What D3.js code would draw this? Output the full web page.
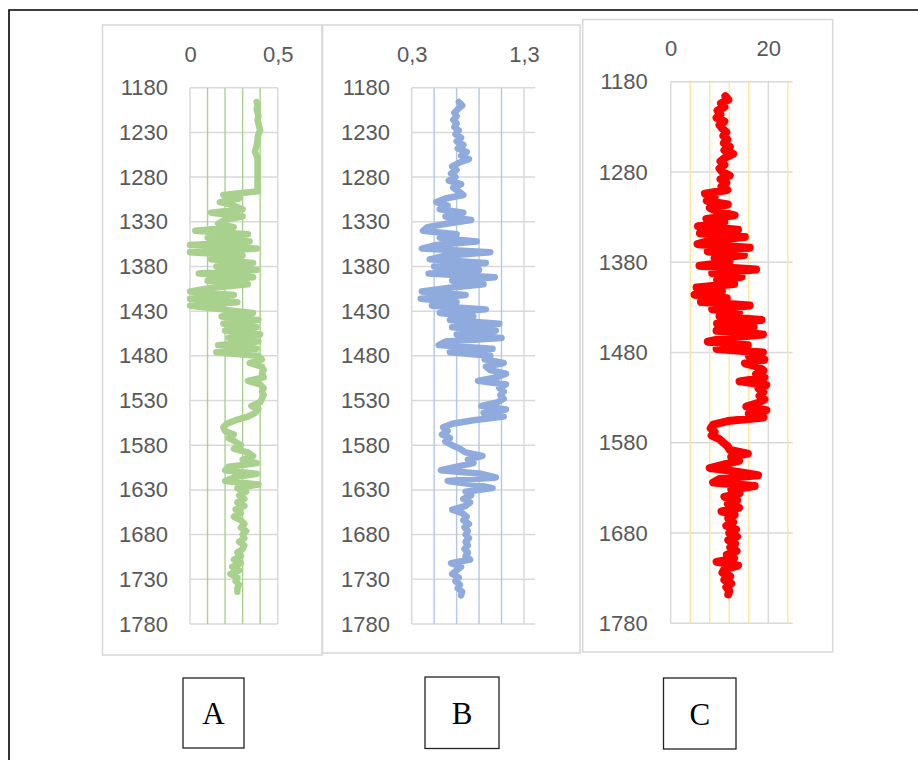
<!DOCTYPE html>
<html>
<head>
<meta charset="utf-8">
<script src="https://cdn.jsdelivr.net/npm/d3@7"></script>
<style>
  body { margin: 0; background: #fff; }
  svg text { font-family: "Liberation Sans", Arial, sans-serif; }
</style>
</head>
<body>
<script>
// Depth samples start at 1196 and step by 4 (one value per sample)
const depthStart = 1196;
const depthStep = 4;

// Track A (0 - 0.5)
const logA = [
  0.38, 0.385, 0.38, 0.385, 0.39, 0.385, 0.39, 0.395, 0.40, 0.39,
  0.385, 0.385, 0.38, 0.375, 0.37, 0.38, 0.385, 0.385, 0.385, 0.385,
  0.385, 0.385, 0.385, 0.385, 0.385, 0.385, 0.19, 0.28, 0.17, 0.25,
  0.30, 0.12, 0.30, 0.20, 0.16, 0.25, 0.03, 0.33, 0.10, 0.34,
  0.0, 0.38, 0.0, 0.30, 0.12, 0.36, 0.15, 0.38, 0.05, 0.36,
  0.10, 0.33, 0.12, 0.0, 0.25, 0.0, 0.27, 0.0, 0.18, 0.36,
  0.18, 0.39, 0.19, 0.38, 0.20, 0.40, 0.22, 0.39, 0.16, 0.38,
  0.15, 0.39, 0.41, 0.34, 0.41, 0.42, 0.41, 0.42, 0.33, 0.40,
  0.42, 0.41, 0.42, 0.41, 0.40, 0.35, 0.39, 0.37, 0.33, 0.26,
  0.21, 0.19, 0.20, 0.25, 0.22, 0.26, 0.29, 0.25, 0.33, 0.36,
  0.30, 0.38, 0.22, 0.20, 0.38, 0.25, 0.20, 0.39, 0.27, 0.32,
  0.28, 0.31, 0.27, 0.31, 0.26, 0.29, 0.25, 0.29, 0.31, 0.29,
  0.32, 0.30, 0.31, 0.28, 0.31, 0.30, 0.27, 0.29, 0.25, 0.29,
  0.24, 0.28, 0.23, 0.27, 0.26, 0.28, 0.27, 0.27
];

// Track B (0.3 - 1.4)
const logB = [
  0.72, 0.75, 0.71, 0.68, 0.70, 0.67, 0.70, 0.68, 0.72, 0.69,
  0.74, 0.70, 0.76, 0.71, 0.79, 0.74, 0.81, 0.72, 0.66, 0.70,
  0.65, 0.69, 0.63, 0.74, 0.67, 0.72, 0.76, 0.60, 0.52, 0.62,
  0.55, 0.76, 0.60, 0.83, 0.62, 0.44, 0.40, 0.70, 0.55, 0.88,
  0.52, 0.39, 1.00, 0.60, 0.46, 0.96, 0.50, 0.90, 0.45, 1.04,
  0.66, 0.94, 0.62, 0.39, 0.78, 0.38, 0.70, 0.48, 0.96, 0.55,
  0.85, 0.64, 1.08, 0.66, 1.05, 0.70, 1.10, 0.60, 0.54, 1.02,
  0.64, 1.00, 0.95, 1.12, 0.96, 1.00, 1.14, 1.06, 0.89, 1.14,
  1.08, 1.12, 1.09, 1.12, 1.06, 0.92, 1.14, 0.94, 1.12, 0.85,
  0.66, 0.58, 0.62, 0.57, 0.64, 0.60, 0.66, 0.73, 0.78, 0.93,
  0.80, 0.85, 0.70, 0.56, 0.92, 1.05, 0.62, 0.86, 1.02, 0.78,
  0.83, 0.76, 0.82, 0.78, 0.66, 0.75, 0.79, 0.76, 0.81, 0.77,
  0.80, 0.78, 0.81, 0.78, 0.80, 0.77, 0.80, 0.78, 0.82, 0.65,
  0.74, 0.70, 0.66, 0.72, 0.69, 0.73, 0.71, 0.75, 0.74
];

// Track C (0 - 25)
const logC = [
  11.2, 11.8, 10.3, 11.0, 9.6, 10.2, 9.4, 11.0, 10.0, 10.6,
  11.4, 10.8, 11.6, 10.9, 12.1, 11.0, 12.8, 11.2, 10.2, 11.0,
  10.0, 10.6, 12.1, 10.2, 11.4, 10.4, 11.6, 7.0, 9.0, 7.4,
  11.7, 8.0, 10.0, 13.1, 7.3, 11.0, 5.6, 13.8, 6.0, 15.2,
  8.0, 5.5, 16.2, 7.6, 15.0, 9.0, 12.0, 5.9, 17.5, 8.5,
  14.5, 9.5, 13.0, 5.3, 10.5, 4.9, 11.5, 6.2, 16.2, 8.5,
  14.0, 10.0, 18.6, 9.5, 17.0, 9.4, 18.9, 11.0, 7.6, 15.8,
  9.4, 18.9, 16.0, 19.2, 15.2, 18.0, 19.0, 17.5, 19.2, 14.1,
  19.6, 18.0, 19.0, 18.2, 19.2, 17.8, 15.5, 19.6, 16.0, 19.0,
  11.7, 8.7, 8.2, 9.0, 8.4, 10.0, 10.8, 11.7, 12.1, 15.8,
  12.4, 14.0, 11.0, 8.0, 13.5, 17.9, 10.0, 8.7, 17.2, 12.4,
  14.1, 11.0, 13.6, 11.7, 14.0, 10.4, 13.1, 11.8, 12.8, 11.4,
  13.4, 12.0, 13.6, 11.8, 13.2, 12.2, 13.5, 11.5, 13.0, 9.4,
  13.8, 11.0, 10.6, 12.2, 11.0, 12.4, 11.4, 12.0, 11.8
];

// Tick labels
const depthTicks50 = [1180, 1230, 1280, 1330, 1380, 1430, 1480, 1530, 1580, 1630, 1680, 1730, 1780];
const depthTicks100 = [1180, 1280, 1380, 1480, 1580, 1680, 1780];
const topTicksA = [0, 0.5], minorA = [0.1, 0.2, 0.3, 0.4];
const topTicksB = [0.3, 1.3], minorB = [0.5, 0.7, 0.9, 1.1];
const topTicksC = [0, 20], minorC = [4, 8, 12, 16, 24];
const trackNames = ["A", "B", "C"];

const W = 918, H = 760;
const svg = d3.select("body").append("svg")
  .attr("width", W).attr("height", H);

// outer black frame (only top and left edges are in view)
svg.append("path")
  .attr("d", `M9,${H}V10H${W}`)
  .attr("fill", "none").attr("stroke", "#000").attr("stroke-width", 1.6);

const fmt = d => String(d).replace(".", ",");

function drawTrack(cfg) {
  const g = svg.append("g");

  g.append("rect")
    .attr("x", cfg.frame[0]).attr("y", cfg.frame[1])
    .attr("width", cfg.frame[2]).attr("height", cfg.frame[3])
    .attr("fill", "#fff").attr("stroke", "#d9d9d9").attr("stroke-width", 1.6);

  const x = d3.scaleLinear().domain(cfg.xDomain).range(cfg.xRange);
  const y = d3.scaleLinear().domain([1180, 1780]).range(cfg.yRange);

  // horizontal grid
  g.selectAll(".hgrid").data(cfg.hGrid).join("line")
    .attr("x1", x.range()[0]).attr("x2", x.range()[1])
    .attr("y1", d => y(d)).attr("y2", d => y(d))
    .attr("stroke", "#d9d9d9").attr("stroke-width", 1.5);

  // minor vertical grid (coloured)
  g.selectAll(".vminor").data(cfg.minor).join("line")
    .attr("x1", d => x(d)).attr("x2", d => x(d))
    .attr("y1", y(1180)).attr("y2", y(1780))
    .attr("stroke", cfg.gridColor).attr("stroke-width", 1.4);

  // major vertical grid (grey)
  g.selectAll(".vmajor").data(cfg.topTicks).join("line")
    .attr("x1", d => x(d)).attr("x2", d => x(d))
    .attr("y1", y(1180)).attr("y2", y(1780))
    .attr("stroke", "#d9d9d9").attr("stroke-width", 1.5);

  // depth axis labels
  const left = g.append("g")
    .attr("transform", `translate(${x.range()[0]},0)`)
    .call(d3.axisLeft(y).tickValues(cfg.labels).tickSize(0).tickPadding(cfg.padLeft).tickFormat(d3.format("d")));
  left.select(".domain").remove();
  left.selectAll("text").attr("font-size", 22).attr("fill", "#595959")
    .style("font-family", '"Liberation Sans", Arial, sans-serif');

  // value axis labels on top
  const top = g.append("g")
    .attr("transform", `translate(0,${y(1180)})`)
    .call(d3.axisTop(x).tickValues(cfg.topTicks).tickSize(0).tickPadding(cfg.padTop).tickFormat(fmt));
  top.select(".domain").remove();
  top.selectAll("text").attr("font-size", 22).attr("fill", "#595959")
    .style("font-family", '"Liberation Sans", Arial, sans-serif');

  // log curve
  const line = d3.line()
    .x(d => x(d))
    .y((d, i) => y(depthStart + i * depthStep));
  g.append("path")
    .datum(cfg.values)
    .attr("d", line)
    .attr("fill", "none")
    .attr("stroke", cfg.color)
    .attr("stroke-width", cfg.width)
    .attr("stroke-linejoin", "round")
    .attr("stroke-linecap", "round");

  // caption box
  const b = cfg.box;
  svg.append("rect")
    .attr("x", b[0]).attr("y", b[1]).attr("width", b[2]).attr("height", b[3])
    .attr("fill", "none").attr("stroke", "#222").attr("stroke-width", 1.3);
  svg.append("text")
    .attr("x", b[0] + b[2] / 2).attr("y", b[1] + b[3] / 2 + 11)
    .attr("text-anchor", "middle")
    .attr("font-size", 31)
    .style("font-family", '"Liberation Serif", "Times New Roman", serif')
    .attr("fill", "#000")
    .text(cfg.name);
}

drawTrack({
  name: trackNames[0], values: logA, color: "#a9d18e", gridColor: "#a9d18e", width: 6.5,
  frame: [102.5, 25, 219.5, 630],
  xDomain: [0, 0.5], xRange: [190, 277.7], yRange: [87.7, 624],
  topTicks: topTicksA, minor: minorA, hGrid: depthTicks50, labels: depthTicks50,
  padLeft: 22, padTop: 26, box: [183, 678, 61, 70]
});

drawTrack({
  name: trackNames[1], values: logB, color: "#8faadc", gridColor: "#b4c7e7", width: 6.5,
  frame: [322.5, 25, 257.5, 628],
  xDomain: [0.3, 1.4], xRange: [411.7, 535.2], yRange: [87.7, 624],
  topTicks: topTicksB, minor: minorB, hGrid: depthTicks50, labels: depthTicks50,
  padLeft: 21.7, padTop: 26, box: [425, 677, 74, 71.5]
});

drawTrack({
  name: trackNames[2], values: logC, color: "#ff0000", gridColor: "#ffe699", width: 8,
  frame: [582.7, 19.5, 250, 632.5],
  xDomain: [0, 25], xRange: [670.7, 792.7], yRange: [81.7, 623.3],
  topTicks: topTicksC, minor: minorC, hGrid: depthTicks100, labels: depthTicks100,
  padLeft: 23, padTop: 25.7, box: [663.5, 678, 72.5, 71]
});
</script>
</body>
</html>
